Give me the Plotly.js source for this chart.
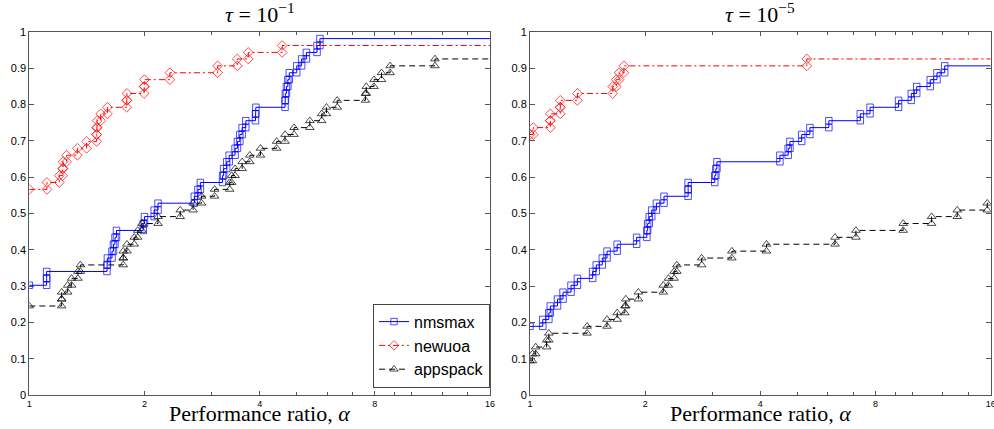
<!DOCTYPE html>
<html>
<head>
<meta charset="utf-8">
<script src="https://cdn.plot.ly/plotly-3.0.1.min.js"></script>
<style>html,body{margin:0;padding:0;background:#fff;}#chart{width:994px;height:429px;}</style>
</head>
<body>
<div id="chart"></div>
<script>
// ---- Data (performance ratio at each step, and profile value after the step) ----
// Left panel: tau = 1e-1
const nmsmaxL_ratio = [1, 1.11, 1.11, 1.596, 1.60, 1.645, 1.66, 1.675, 1.69, 1.985, 2.0, 2.12, 2.17, 2.70, 2.76, 2.80, 3.20, 3.22, 3.28, 3.33, 3.45, 3.50, 3.55, 3.60, 3.68, 3.90, 3.91, 4.66, 4.67, 4.70, 4.74, 4.78, 5.0, 5.15, 5.3, 5.65, 5.75];
const nmsmaxL_value = [0.302, 0.321, 0.340, 0.358, 0.377, 0.396, 0.415, 0.434, 0.453, 0.472, 0.491, 0.509, 0.528, 0.547, 0.566, 0.585, 0.604, 0.623, 0.642, 0.660, 0.679, 0.698, 0.717, 0.736, 0.755, 0.774, 0.792, 0.811, 0.830, 0.849, 0.868, 0.887, 0.906, 0.925, 0.943, 0.962, 0.981];

const newuoaL_ratio = [1, 1.112, 1.198, 1.222, 1.225, 1.252, 1.335, 1.412, 1.50, 1.50, 1.505, 1.537, 1.60, 1.797, 1.80, 1.995, 2.0, 2.331, 3.106, 3.496, 3.735, 4.58];
const newuoaL_value = [0.566, 0.585, 0.604, 0.623, 0.642, 0.660, 0.679, 0.698, 0.717, 0.736, 0.755, 0.774, 0.792, 0.811, 0.830, 0.849, 0.868, 0.887, 0.906, 0.925, 0.943, 0.962];

const appspackL_ratio = [1, 1.215, 1.215, 1.26, 1.29, 1.34, 1.36, 1.76, 1.76, 1.80, 1.88, 1.92, 1.97, 2.17, 2.48, 2.68, 2.82, 3.05, 3.34, 3.38, 3.45, 3.60, 3.77, 4.02, 4.43, 4.66, 4.92, 5.41, 5.81, 5.98, 6.38, 7.56, 7.60, 7.96, 8.33, 8.77, 11.49];
const appspackL_value = [0.245, 0.264, 0.283, 0.302, 0.321, 0.340, 0.358, 0.377, 0.396, 0.415, 0.434, 0.453, 0.472, 0.491, 0.509, 0.528, 0.547, 0.566, 0.585, 0.604, 0.623, 0.642, 0.660, 0.679, 0.698, 0.717, 0.736, 0.755, 0.774, 0.792, 0.811, 0.830, 0.849, 0.868, 0.887, 0.906, 0.925];

// Right panel: tau = 1e-5
const nmsmaxR_ratio = [1, 1.08, 1.12, 1.13, 1.18, 1.22, 1.28, 1.33, 1.458, 1.49, 1.545, 1.59, 1.69, 1.90, 2.02, 2.03, 2.05, 2.08, 2.14, 2.24, 2.59, 2.59, 3.04, 3.06, 3.08, 4.50, 4.73, 4.78, 5.13, 5.39, 6.04, 7.30, 7.74, 9.19, 9.92, 10.25, 11.12, 11.58, 12.13];
const nmsmaxR_value = [0.189, 0.208, 0.226, 0.245, 0.264, 0.283, 0.302, 0.321, 0.340, 0.358, 0.377, 0.396, 0.415, 0.434, 0.453, 0.472, 0.491, 0.509, 0.528, 0.547, 0.566, 0.585, 0.604, 0.623, 0.642, 0.660, 0.679, 0.698, 0.717, 0.736, 0.755, 0.774, 0.792, 0.811, 0.830, 0.849, 0.868, 0.887, 0.906];

const newuoaR_ratio = [1, 1.02, 1.13, 1.13, 1.20, 1.20, 1.33, 1.645, 1.68, 1.71, 1.76, 5.29];
const newuoaR_value = [0.717, 0.736, 0.755, 0.774, 0.792, 0.811, 0.830, 0.849, 0.868, 0.887, 0.906, 0.925];

const appspackR_ratio = [1, 1.015, 1.035, 1.105, 1.12, 1.41, 1.59, 1.69, 1.77, 1.78, 1.92, 2.23, 2.30, 2.38, 2.42, 2.81, 3.37, 4.15, 6.27, 7.11, 9.45, 11.21, 13.08, 15.67];
const appspackR_value = [0.094, 0.113, 0.132, 0.151, 0.170, 0.189, 0.208, 0.226, 0.245, 0.264, 0.283, 0.302, 0.321, 0.340, 0.358, 0.377, 0.396, 0.415, 0.434, 0.453, 0.472, 0.491, 0.509, 0.528];

const xTicks = [1, 2, 4, 8, 16];
const xTickText = ['1', '2', '4', '8', '16'];
const xMinor = [3, 5, 6, 7, 9, 10, 12, 14];
const xMax = 16;
const seriesNames = ['nmsmax', 'newuoa', 'appspack'];
const panelTitles = ['<i>τ</i> = 10<sup>−1</sup>', '<i>τ</i> = 10<sup>−5</sup>'];
const xLabel = 'Performance ratio, <i>α</i>';

// ---- build stair vertices ----
function stairs(r, v) {
  const xs = [r[0]], ys = [v[0]], sz = [1];
  for (let i = 1; i < r.length; i++) {
    xs.push(r[i]); ys.push(v[i - 1]); sz.push(1);
    xs.push(r[i]); ys.push(v[i]); sz.push(1);
  }
  xs.push(xMax); ys.push(v[v.length - 1]); sz.push(0);
  return {xs, ys, sz};
}

const styles = [
  {color: '#0000ff', dash: 'solid', symbol: 'square-open', size: 6.5},
  {color: '#ff0000', dash: '6px,3px,2px,3px', symbol: 'diamond-open', size: 7.5},
  {color: '#000000', dash: '6px,4px', symbol: 'triangle-up-open', size: 7.5}
];

const panels = [
  [[nmsmaxL_ratio, nmsmaxL_value], [newuoaL_ratio, newuoaL_value], [appspackL_ratio, appspackL_value]],
  [[nmsmaxR_ratio, nmsmaxR_value], [newuoaR_ratio, newuoaR_value], [appspackR_ratio, appspackR_value]]
];

const traces = [];
panels.forEach((panel, p) => {
  panel.forEach((d, s) => {
    const st = stairs(d[0], d[1]);
    const sty = styles[s];
    traces.push({
      type: 'scatter', mode: 'lines+markers',
      x: st.xs, y: st.ys,
      name: seriesNames[s],
      showlegend: p === 0,
      xaxis: p === 0 ? 'x' : 'x2', yaxis: p === 0 ? 'y' : 'y2',
      line: {color: sty.color, width: 1, dash: sty.dash},
      marker: {symbol: sty.symbol, color: sty.color, size: st.sz.map(z => z * sty.size), line: {color: sty.color, width: 1}}
    });
  });
});

const axisColor = '#555555';
function xAxis(domain, anchor) {
  return {
    type: 'log', range: [0, Math.log10(xMax)], domain: domain, anchor: anchor,
    tickmode: 'array', tickvals: xTicks, ticktext: xTickText,
    ticks: 'inside', ticklen: 4, tickcolor: axisColor, tickwidth: 1,
    showline: true, linecolor: axisColor, linewidth: 1, mirror: 'ticks',
    showgrid: false, zeroline: false, automargin: false, ticklabeloverflow: 'allow',
    tickfont: {family: 'Liberation Sans, Arial, sans-serif', size: 9, color: '#000'},
    minor: {tickmode: 'array', tickvals: xMinor, ticks: 'inside', ticklen: 3, tickcolor: axisColor, showgrid: false}
  };
}
function yAxis(domain, anchor) {
  return {
    range: [0, 1], domain: domain, anchor: anchor,
    tick0: 0, dtick: 0.1,
    ticks: 'inside', ticklen: 5, tickcolor: axisColor, tickwidth: 1,
    showline: true, linecolor: axisColor, linewidth: 1, mirror: 'ticks',
    showgrid: false, zeroline: false, automargin: false,
    tickfont: {family: 'Liberation Sans, Arial, sans-serif', size: 11, color: '#000'}
  };
}

const yDom = [34 / 429, 397.3 / 429];
const xDomL = [29.3 / 994, 490 / 994];
const xDomR = [530 / 994, 990.7 / 994];

const serif = {family: 'Liberation Serif, Times New Roman, serif', size: 22, color: '#000'};
const annotations = [];
[xDomL, xDomR].forEach((dom, i) => {
  const cx = (dom[0] + dom[1]) / 2;
  annotations.push({text: panelTitles[i], xref: 'paper', yref: 'paper', x: cx, y: (429 - 13) / 429,
    xanchor: 'center', yanchor: 'middle', showarrow: false, font: serif});
  annotations.push({text: xLabel, xref: 'paper', yref: 'paper', x: cx, y: (429 - 413) / 429,
    xanchor: 'center', yanchor: 'middle', showarrow: false, font: serif});
});

const layout = {
  width: 994, height: 429,
  margin: {l: 0, r: 0, t: 0, b: 0},
  paper_bgcolor: '#ffffff', plot_bgcolor: '#ffffff',
  xaxis: xAxis(xDomL, 'y'), yaxis: yAxis(yDom, 'x'),
  xaxis2: xAxis(xDomR, 'y2'), yaxis2: yAxis(yDom, 'x2'),
  showlegend: true,
  legend: {
    x: 490 / 994, xanchor: 'right', y: (429 - 387.7) / 429, yanchor: 'bottom',
    bgcolor: '#ffffff', bordercolor: '#444444', borderwidth: 1,
    font: {family: 'Liberation Sans, Arial, sans-serif', size: 16, color: '#000'},
    tracegroupgap: 0, itemwidth: 30
  },
  annotations: annotations
};

Plotly.newPlot('chart', traces, layout, {staticPlot: true, displayModeBar: false});
</script>
</body>
</html>
